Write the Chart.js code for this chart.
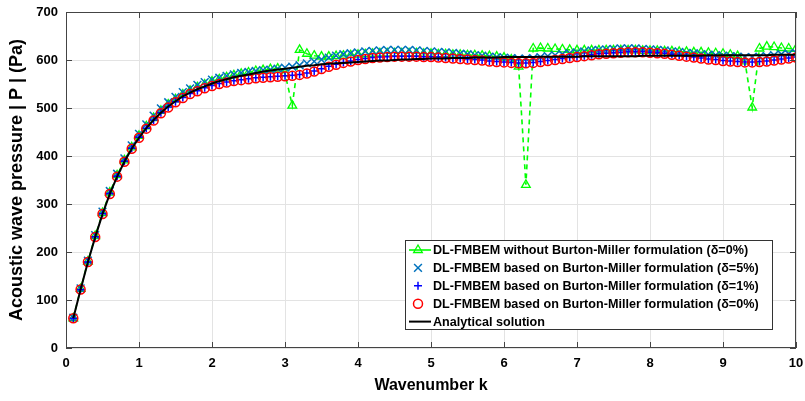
<!DOCTYPE html>
<html>
<head>
<meta charset="utf-8">
<script src="https://cdn.jsdelivr.net/npm/chart.js@4.4.1/dist/chart.umd.min.js"></script>
<style>
  html, body { margin: 0; padding: 0; background: #fff; }
</style>
</head>
<body>
<canvas id="c" width="805" height="401"></canvas>
<script>
// wavenumber k
const K = [
  0.1, 0.2, 0.3, 0.4, 0.5, 0.6, 0.7, 0.8, 0.9, 1.0,
  1.1, 1.2, 1.3, 1.4, 1.5, 1.6, 1.7, 1.8, 1.9, 2.0,
  2.1, 2.2, 2.3, 2.4, 2.5, 2.6, 2.7, 2.8, 2.9, 3.0,
  3.1, 3.2, 3.3, 3.4, 3.5, 3.6, 3.7, 3.8, 3.9, 4.0,
  4.1, 4.2, 4.3, 4.4, 4.5, 4.6, 4.7, 4.8, 4.9, 5.0,
  5.1, 5.2, 5.3, 5.4, 5.5, 5.6, 5.7, 5.8, 5.9, 6.0,
  6.1, 6.2, 6.3, 6.4, 6.5, 6.6, 6.7, 6.8, 6.9, 7.0,
  7.1, 7.2, 7.3, 7.4, 7.5, 7.6, 7.7, 7.8, 7.9, 8.0,
  8.1, 8.2, 8.3, 8.4, 8.5, 8.6, 8.7, 8.8, 8.9, 9.0,
  9.1, 9.2, 9.3, 9.4, 9.5, 9.6, 9.7, 9.8, 9.9, 10.0
];

// DL-FMBEM without Burton-Miller (delta = 0%)
const noBM = [
  62, 123, 180, 233, 281, 324, 360, 391, 418, 442,
  462, 479, 494, 507, 518, 528, 536, 543, 549, 555,
  560, 564, 568, 571, 574, 577, 579, 581, 582, 572,
  505, 621, 613, 609, 607, 607, 608, 609, 610, 611,
  612, 613, 614, 614, 614, 614, 614, 614, 613, 613,
  612, 612, 611, 611, 610, 610, 609, 608, 607, 605,
  601, 586, 340, 624, 625, 624, 623, 622, 621, 620,
  620, 620, 620, 620, 620, 620, 620, 620, 619, 619,
  619, 618, 618, 617, 617, 616, 616, 615, 614, 613,
  611, 608, 597, 501, 624, 628, 627, 625, 624, 623
];

// Burton-Miller, delta = 5%
const bm5 = [
  63, 124, 182, 235, 284, 327, 363, 395, 422, 446,
  466, 484, 499, 512, 523, 533, 541, 548, 554, 559,
  563, 567, 570, 573, 575, 577, 579, 580, 582, 584,
  586, 589, 593, 597, 601, 605, 609, 612, 614, 616,
  618, 619, 620, 621, 621, 621, 621, 620, 619, 618,
  617, 616, 615, 613, 612, 610, 609, 607, 606, 605,
  604, 603, 603, 604, 606, 608, 610, 612, 614, 616,
  618, 620, 621, 622, 623, 624, 624, 624, 623, 622,
  621, 620, 618, 617, 615, 614, 612, 611, 610, 609,
  608, 607, 606, 606, 607, 608, 610, 612, 613, 615
];

// Burton-Miller, delta = 1%
const bm1 = [
  62, 122, 179, 232, 280, 322, 358, 389, 416, 439,
  458, 475, 490, 502, 513, 522, 530, 536, 542, 547,
  551, 554, 557, 559, 561, 563, 564, 565, 566, 567,
  568, 570, 573, 577, 582, 587, 591, 595, 598, 601,
  603, 605, 606, 607, 608, 608, 608, 608, 607, 607,
  606, 605, 604, 603, 602, 601, 600, 598, 597, 596,
  595, 594, 594, 595, 597, 599, 601, 603, 605, 607,
  609, 611, 613, 614, 615, 616, 617, 617, 617, 616,
  615, 614, 612, 610, 608, 606, 604, 602, 601, 599,
  598, 597, 596, 596, 597, 598, 600, 602, 604, 606
];

// Burton-Miller, delta = 0%
const bm0 = [
  62, 122, 179, 231, 279, 321, 357, 388, 415, 438,
  457, 474, 489, 501, 512, 521, 529, 535, 541, 546,
  550, 553, 556, 558, 560, 562, 563, 564, 565, 566,
  567, 569, 572, 576, 581, 586, 590, 594, 597, 600,
  602, 604, 605, 606, 607, 607, 607, 607, 606, 606,
  605, 604, 603, 602, 601, 600, 599, 597, 596, 595,
  594, 593, 593, 594, 596, 598, 600, 602, 604, 606,
  608, 610, 612, 613, 614, 615, 616, 616, 616, 615,
  614, 613, 611, 609, 607, 605, 603, 601, 600, 598,
  597, 596, 595, 595, 596, 597, 599, 601, 603, 605
];

// analytical solution
const exact = [
  62, 122, 179, 231, 279, 321, 357, 388, 415, 438,
  458, 475, 490, 503, 514, 524, 532, 539, 545, 551,
  556, 560, 564, 567, 570, 573, 576, 578, 580, 582,
  584, 586, 588, 589, 591, 592, 593, 594, 595, 596,
  597, 598, 599, 599, 600, 601, 601, 602, 602, 603,
  603, 603, 604, 604, 604, 605, 605, 605, 605, 606,
  606, 606, 606, 606, 607, 607, 607, 607, 607, 607,
  608, 608, 608, 608, 608, 608, 608, 608, 609, 609,
  609, 609, 609, 609, 609, 609, 609, 610, 610, 610,
  610, 610, 610, 610, 610, 610, 611, 611, 611, 611
];

const LABELS = [
  'DL-FMBEM without Burton-Miller formulation (\u03b4=0%)',
  'DL-FMBEM based on Burton-Miller formulation (\u03b4=5%)',
  'DL-FMBEM based on Burton-Miller formulation (\u03b4=1%)',
  'DL-FMBEM based on Burton-Miller formulation (\u03b4=0%)',
  'Analytical solution'
];

function pts(arr) {
  return K.map((k, i) => ({ x: k, y: arr[i] }));
}

const FAMILY = '"Liberation Sans", Arial, sans-serif';
const tickFont = { family: FAMILY, size: 13, weight: 'bold' };
const boxColor = '#444';

// axes box with inward ticks, like matlab
const frame = {
  id: 'frame',
  afterDraw(chart) {
    const { ctx, chartArea: a, scales } = chart;
    ctx.save();
    ctx.strokeStyle = boxColor;
    ctx.lineWidth = 1;
    ctx.strokeRect(a.left + 0.5, a.top + 0.5, a.right - a.left - 1, a.bottom - a.top - 1);
    const len = 6;
    ctx.beginPath();
    scales.x.ticks.forEach(t => {
      const px = Math.round(scales.x.getPixelForValue(t.value)) + 0.5;
      ctx.moveTo(px, a.bottom); ctx.lineTo(px, a.bottom - len);
      ctx.moveTo(px, a.top); ctx.lineTo(px, a.top + len);
    });
    scales.y.ticks.forEach(t => {
      const py = Math.round(scales.y.getPixelForValue(t.value)) + 0.5;
      ctx.moveTo(a.left, py); ctx.lineTo(a.left + len, py);
      ctx.moveTo(a.right, py); ctx.lineTo(a.right - len, py);
    });
    ctx.stroke();
    ctx.restore();
  }
};

function marker(ctx, style, x, y, r) {
  ctx.beginPath();
  if (style === 'triangle') {
    ctx.moveTo(x, y - r);
    ctx.lineTo(x + r * 0.866, y + r * 0.5);
    ctx.lineTo(x - r * 0.866, y + r * 0.5);
    ctx.closePath();
  } else if (style === 'crossRot') {
    const d = r * 0.707;
    ctx.moveTo(x - d, y - d); ctx.lineTo(x + d, y + d);
    ctx.moveTo(x + d, y - d); ctx.lineTo(x - d, y + d);
  } else if (style === 'cross') {
    ctx.moveTo(x - r, y); ctx.lineTo(x + r, y);
    ctx.moveTo(x, y - r); ctx.lineTo(x, y + r);
  } else if (style === 'circle') {
    ctx.arc(x, y, r, 0, Math.PI * 2);
  }
  ctx.stroke();
}

const legendBox = {
  id: 'legendBox',
  afterDraw(chart) {
    const { ctx, chartArea: a } = chart;
    const w = 367, h = 89;
    const x0 = a.right - 24 - w, y0 = a.bottom - 19 - h;
    ctx.save();
    ctx.fillStyle = '#fff';
    ctx.fillRect(x0, y0, w, h);
    ctx.strokeStyle = '#333';
    ctx.lineWidth = 1;
    ctx.strokeRect(x0 + 0.5, y0 + 0.5, w, h);
    ctx.font = 'bold 12.6px ' + FAMILY;
    ctx.textBaseline = 'middle';
    ctx.fillStyle = '#000';
    chart.data.datasets.forEach((ds, i) => {
      const yy = y0 + 10 + i * 17.9;
      const mx = x0 + 13;
      ctx.strokeStyle = ds.borderColor;
      if (ds.showLine !== false) {
        ctx.lineWidth = ds.borderWidth;
        ctx.beginPath();
        ctx.moveTo(x0 + 4, yy); ctx.lineTo(x0 + 26, yy);
        ctx.stroke();
      }
      if (ds.pointRadius > 0) {
        ctx.lineWidth = ds.pointBorderWidth;
        marker(ctx, ds.pointStyle, mx, yy, ds.pointRadius);
      }
      ctx.fillText(ds.label, x0 + 28, yy + 0.5);
    });
    ctx.restore();
  }
};

new Chart(document.getElementById('c'), {
  type: 'line',
  data: {
    datasets: [
      {
        label: LABELS[0], data: pts(noBM), order: 5,
        borderColor: '#00ff00', borderWidth: 1.6, borderDash: [5, 4],
        pointStyle: 'triangle', pointRadius: 5, pointBorderWidth: 1.3,
        pointBorderColor: '#00ff00', pointBackgroundColor: 'rgba(0,0,0,0)'
      },
      {
        label: LABELS[1], data: pts(bm5), order: 4, showLine: false,
        borderColor: '#0072bd', borderWidth: 1.5,
        pointStyle: 'crossRot', pointRadius: 5.5, pointBorderWidth: 1.5,
        pointBorderColor: '#0072bd'
      },
      {
        label: LABELS[2], data: pts(bm1), order: 3, showLine: false,
        borderColor: '#0000ff', borderWidth: 1.5,
        pointStyle: 'cross', pointRadius: 4, pointBorderWidth: 1.5,
        pointBorderColor: '#0000ff'
      },
      {
        label: LABELS[3], data: pts(bm0), order: 2, showLine: false,
        borderColor: '#ff0000', borderWidth: 1.5,
        pointStyle: 'circle', pointRadius: 4.5, pointBorderWidth: 1.5,
        pointBorderColor: '#ff0000', pointBackgroundColor: 'rgba(0,0,0,0)'
      },
      {
        label: LABELS[4], data: pts(exact), order: 1,
        borderColor: '#000000', borderWidth: 2, pointRadius: 0, tension: 0
      }
    ]
  },
  options: {
    responsive: false,
    animation: false,
    layout: { padding: { top: 12, right: 9, left: 0, bottom: 0 } },
    plugins: { legend: { display: false }, tooltip: { enabled: false } },
    scales: {
      x: {
        type: 'linear', min: 0, max: 10,
        afterFit: s => { s.height = 53; s.paddingLeft = 0; s.paddingRight = 0; },
        ticks: { stepSize: 1, padding: 8, color: '#000', font: tickFont, maxRotation: 0 },
        grid: { color: '#e3e3e3', drawTicks: false },
        border: { display: false },
        title: { display: true, text: 'Wavenumber k', color: '#000', font: { family: FAMILY, size: 16, weight: 'bold' }, padding: { top: 0, bottom: 6 } }
      },
      y: {
        min: 0, max: 700,
        afterFit: s => { s.width = 66; s.paddingTop = 0; s.paddingBottom = 0; },
        ticks: { stepSize: 100, padding: 8, color: '#000', font: tickFont },
        grid: { color: '#e3e3e3', drawTicks: false },
        border: { display: false },
        title: { display: true, text: 'Acoustic wave pressure | P | (Pa)', color: '#000', font: { family: FAMILY, size: 18, weight: 'bold' }, padding: { top: 6, bottom: 0 } }
      }
    }
  },
  plugins: [frame, legendBox]
});
</script>
</body>
</html>
